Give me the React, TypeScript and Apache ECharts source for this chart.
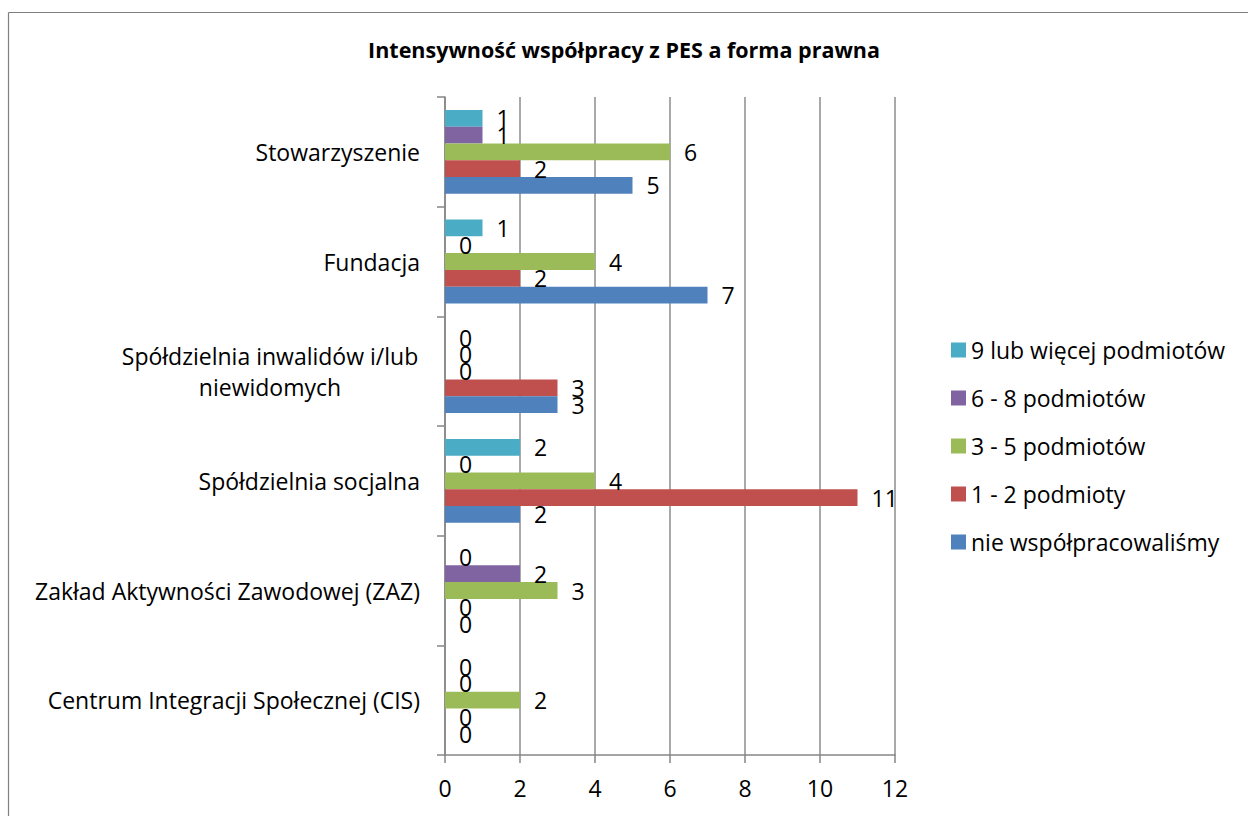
import React, { useEffect, useRef } from "react";
import * as echarts from "echarts";

const titleText = "Intensywność współpracy z PES a forma prawna";
const categories = [
  "Centrum Integracji Społecznej (CIS)",
  "Zakład Aktywności Zawodowej (ZAZ)",
  "Spółdzielnia socjalna",
  "Spółdzielnia inwalidów i/lub niewidomych",
  "Fundacja",
  "Stowarzyszenie",
];
const seriesNames = [
  "9 lub więcej podmiotów",
  "6 - 8 podmiotów",
  "3 - 5 podmiotów",
  "1 - 2 podmioty",
  "nie współpracowaliśmy",
];
const nineOrMore = [0, 0, 2, 0, 1, 1];
const sixToEight = [0, 2, 0, 0, 0, 1];
const threeToFive = [2, 3, 4, 0, 4, 6];
const oneToTwo = [0, 0, 11, 3, 2, 2];
const notCooperated = [0, 0, 2, 3, 7, 5];
const seriesValues = [nineOrMore, sixToEight, threeToFive, oneToTwo, notCooperated];
const seriesColors = ["#4BACC6", "#8064A2", "#9BBB59", "#C0504D", "#4F81BD"];
const xMin = 0;
const xMax = 12;
const xStep = 2;

const FONT = "Open Sans";
const FS = 23;

export default function App() {
  const ref = useRef<HTMLDivElement>(null);
  useEffect(() => {
    if (!ref.current) return;
    const chart = echarts.init(ref.current, null, { renderer: "svg" });
    const option: any = {
      animation: false,
      backgroundColor: "#ffffff",
      textStyle: { fontFamily: FONT, color: "#000" },
      title: {
        text: titleText,
        left: "center",
        top: 33,
        textStyle: { fontFamily: FONT, fontSize: 21.5, fontWeight: "bold", color: "#000" },
      },
      legend: {
        orient: "vertical",
        left: 946,
        top: 333,
        icon: "rect",
        itemWidth: 15,
        itemHeight: 15,
        itemGap: 24,
        data: seriesNames,
        textStyle: { fontFamily: FONT, fontSize: FS, color: "#000", lineHeight: 24 },
      },
      grid: { left: 445, right: 353, top: 97, bottom: 61, containLabel: false },
      xAxis: {
        type: "value",
        min: xMin,
        max: xMax,
        interval: xStep,
        axisLine: { show: true, lineStyle: { color: "#868686", width: 1.5 } },
        axisTick: { show: true, length: 8, lineStyle: { color: "#868686", width: 1.5 } },
        axisLabel: { margin: 21, fontFamily: FONT, fontSize: FS, color: "#000" },
        splitLine: { show: true, lineStyle: { color: "#8c8c8c", width: 1.5 } },
      },
      yAxis: {
        type: "category",
        data: categories,
        axisLine: { show: true, lineStyle: { color: "#868686", width: 1.5 } },
        axisTick: { show: true, length: 8, alignWithLabel: false, lineStyle: { color: "#868686", width: 1.5 } },
        axisLabel: {
          margin: 25,
          fontFamily: FONT,
          fontSize: FS,
          color: "#000",
          formatter: (v: string) =>
            v === "Spółdzielnia inwalidów i/lub niewidomych"
              ? "{c|Spółdzielnia inwalidów i/lub}\n{c|niewidomych}"
              : v,
          rich: {
            c: { width: 300, align: "center", fontFamily: FONT, fontSize: FS, color: "#000", lineHeight: 31 },
          },
        },
      },
      series: seriesNames.map((name, i) => ({
        name,
        type: "bar",
        data: seriesValues[i],
        barGap: "0%",
        barCategoryGap: "23.6%",
        itemStyle: { color: seriesColors[i] },
        label: {
          show: true,
          position: "right",
          distance: 14,
          fontFamily: FONT,
          fontSize: FS,
          color: "#000",
        },
      })),
      graphic: [
        { type: "line", shape: { x1: 8.5, y1: 12.5, x2: 1248, y2: 12.5 }, style: { stroke: "#7f7f7f", lineWidth: 1.2 } },
        { type: "line", shape: { x1: 8.5, y1: 12.5, x2: 8.5, y2: 816 }, style: { stroke: "#7f7f7f", lineWidth: 1.2 } },
      ],
    };
    chart.setOption(option);
    return () => chart.dispose();
  }, []);
  return (
    <div
      ref={ref}
      style={{ position: "fixed", left: 0, top: 0, width: 1248, height: 816, background: "#fff" }}
    />
  );
}
